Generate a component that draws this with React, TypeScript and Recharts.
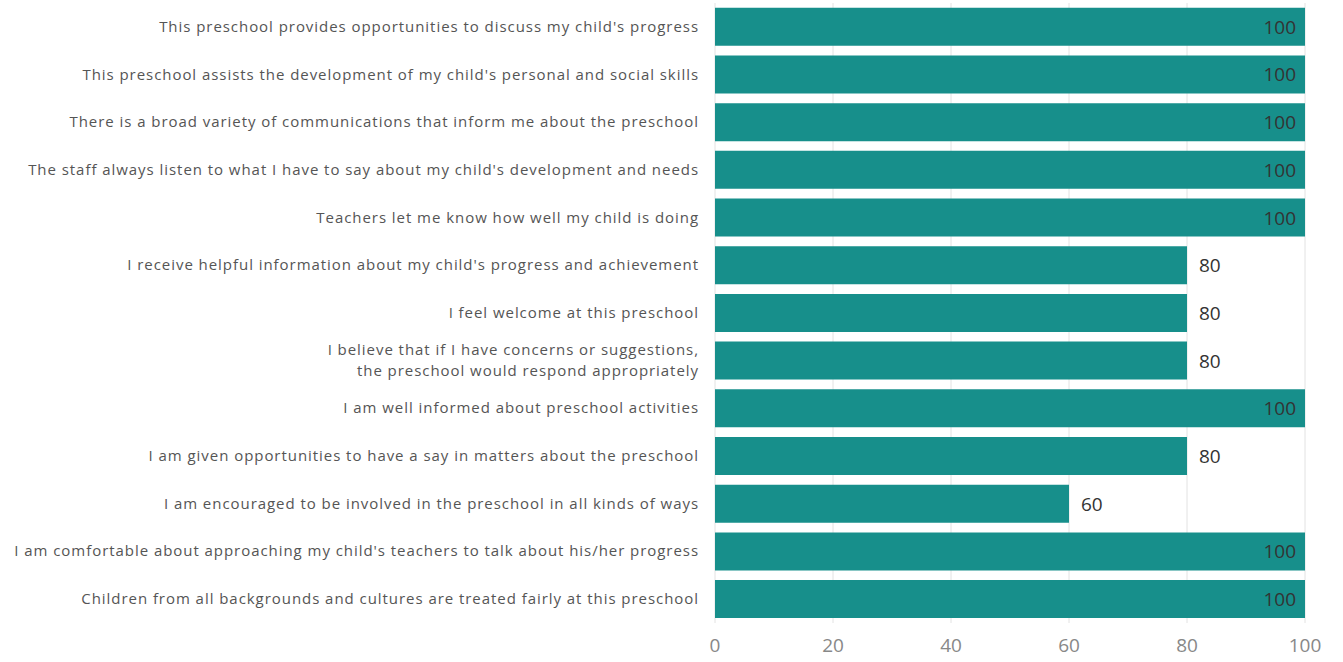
import { BarChart, Bar, XAxis, YAxis, CartesianGrid, LabelList } from "recharts";

const statements = [
  "This preschool provides opportunities to discuss my child's progress",
  "This preschool assists the development of my child's personal and social skills",
  "There is a broad variety of communications that inform me about the preschool",
  "The staff always listen to what I have to say about my child's development and needs",
  "Teachers let me know how well my child is doing",
  "I receive helpful information about my child's progress and achievement",
  "I feel welcome at this preschool",
  "I believe that if I have concerns or suggestions,\nthe preschool would respond appropriately",
  "I am well informed about preschool activities",
  "I am given opportunities to have a say in matters about the preschool",
  "I am encouraged to be involved in the preschool in all kinds of ways",
  "I am comfortable about approaching my child's teachers to talk about his/her progress",
  "Children from all backgrounds and cultures are treated fairly at this preschool",
];

const agreement = [100, 100, 100, 100, 100, 80, 80, 80, 100, 80, 60, 100, 100];

const xTicks = [0, 20, 40, 60, 80, 100];

const data = statements.map((s, i) => ({ statement: s, value: agreement[i] }));

const TEAL = "#178f8b";
const FONT = "'Open Sans', 'Noto Sans', sans-serif";

function StatementTick(props: any) {
  const { x, y, payload } = props;
  const lines = String(payload.value).split("\n");
  const lh = 21;
  const start = -((lines.length - 1) * lh) / 2;
  return (
    <text
      x={x}
      y={y}
      textAnchor="end"
      fill="#555"
      fontSize={15}
      letterSpacing={0.95}
      fontFamily={FONT}
    >
      {lines.map((l, i) => (
        <tspan key={i} x={x} dy={i === 0 ? start + 5 : lh}>
          {l}
        </tspan>
      ))}
    </text>
  );
}

function ValueLabel(props: any) {
  const { x, y, width, height, value } = props;
  const full = value >= 100;
  return (
    <text
      x={full ? x + width - 9 : x + width + 12}
      y={y + height / 2 + 7}
      textAnchor={full ? "end" : "start"}
      fill="#333"
      fontSize={19}
      fontFamily={FONT}
    >
      {value}
    </text>
  );
}

export default function App() {
  return (
    <div style={{ position: "absolute", left: 0, top: 0, background: "#fff" }}>
      <BarChart
        width={1343}
        height={662}
        data={data}
        layout="vertical"
        margin={{ top: 3, right: 38, bottom: 0, left: 0 }}
        barCategoryGap="10%"
      >
        <CartesianGrid horizontal={false} stroke="#e2e2e2" />
        <XAxis
          type="number"
          domain={[0, 100]}
          ticks={xTicks}
          axisLine={false}
          tickLine={false}
          height={39}
          tick={{ fill: "#888", fontSize: 19, fontFamily: FONT }}
          tickMargin={10}
        />
        <YAxis
          type="category"
          dataKey="statement"
          width={715}
          axisLine={false}
          tickLine={false}
          tickMargin={10}
          interval={0}
          tick={<StatementTick />}
        />
        <Bar dataKey="value" fill={TEAL} isAnimationActive={false}>
          <LabelList dataKey="value" content={<ValueLabel />} />
        </Bar>
      </BarChart>
    </div>
  );
}
